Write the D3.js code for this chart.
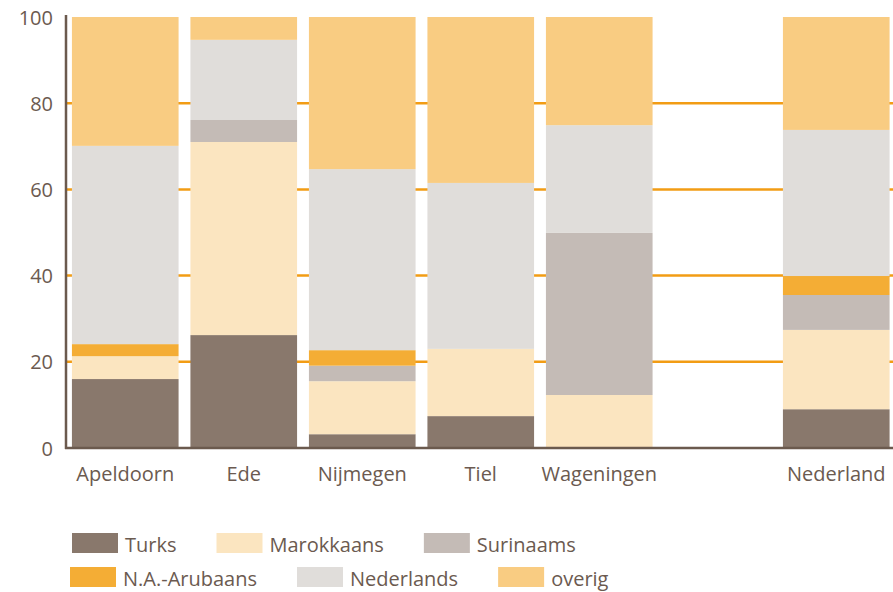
<!DOCTYPE html>
<html>
<head>
    <style>
        body { margin: 0; background: #fff; }
        text { font-family: "Open Sans", sans-serif; fill: #6b5a50; }
    </style>
    <script src="https://d3js.org/d3.v7.min.js"></script>
</head>
<body>
    <svg width="893" height="592"></svg>
    <script>
        // categories (one empty slot between Wageningen and Nederland)
        var places = ["Apeldoorn", "Ede", "Nijmegen", "Tiel", "Wageningen", "", "Nederland"];
        var groups = ["Turks", "Marokkaans", "Surinaams", "N.A.-Arubaans", "Nederlands", "overig"];
        var colors = ["#89786c", "#fbe5c0", "#c4bbb6", "#f4ad35", "#e0ddda", "#f9cc82"];

        // percentages per place, in group order
        var turks      = [16.0, 26.2,  3.2,  7.4,  0.0, null,  9.0];
        var marokkaans = [ 5.3, 44.8, 12.3, 15.6, 12.3, null, 18.4];
        var surinaams  = [ 0.0,  5.1,  3.6,  0.0, 37.6, null,  8.1];
        var arubaans   = [ 2.8,  0.0,  3.6,  0.0,  0.0, null,  4.4];
        var nederlands = [46.0, 18.6, 42.0, 38.5, 25.0, null, 33.9];
        var overig     = [29.9,  5.3, 35.3, 38.5, 25.1, null, 26.2];
        var yTicks = [0, 20, 40, 60, 80, 100];

        var series = [turks, marokkaans, surinaams, arubaans, nederlands, overig];
        var rows = places.map(function(p, i) {
            var r = { place: p };
            groups.forEach(function(g, j) { r[g] = series[j][i] || 0; });
            return r;
        }).filter(function(r) { return r.place !== ""; });

        var svg = d3.select("svg");
        var mLeft = 66, mRight = 893, mTop = 17, mBottom = 448;

        var x = d3.scaleBand().domain(places).range([mLeft, 895.5])
            .paddingInner(0.1).paddingOuter(0.05);
        var y = d3.scaleLinear().domain([0, 100]).range([mBottom, mTop]);
        var color = d3.scaleOrdinal(groups, colors);

        // orange gridlines behind bars
        svg.append("g").selectAll("line").data(yTicks.filter(function(t) { return t > 0 && t < 100; }))
            .enter().append("line")
            .attr("x1", mLeft).attr("x2", mRight)
            .attr("y1", function(d) { return y(d); }).attr("y2", function(d) { return y(d); })
            .attr("stroke", "#f29c14").attr("stroke-width", 2.5);

        var stack = d3.stack().keys(groups)(rows);
        svg.append("g").selectAll("g").data(stack).enter().append("g")
            .attr("fill", function(d) { return color(d.key); })
            .selectAll("rect").data(function(d) { return d; }).enter().append("rect")
            .attr("x", function(d) { return x(d.data.place); })
            .attr("width", x.bandwidth())
            .attr("y", function(d) { return y(d[1]); })
            .attr("height", function(d) { return y(d[0]) - y(d[1]); });

        // axes
        var yAxis = d3.axisLeft(y).tickValues(yTicks).tickSize(0).tickPadding(13);
        var gy = svg.append("g").attr("transform", "translate(" + mLeft + ",0)").call(yAxis);
        gy.select(".domain").remove();
        gy.selectAll("text").style("font-size", "20px").style("fill", "#6b5a50")
            .attr("dy", "0.35em");

        var xAxis = d3.axisBottom(x).tickSize(0).tickPadding(19);
        var gx = svg.append("g").attr("transform", "translate(0," + mBottom + ")").call(xAxis);
        gx.select(".domain").remove();
        gx.selectAll("text").style("font-size", "20px").style("fill", "#6b5a50");

        svg.append("line").attr("x1", mLeft).attr("x2", mLeft).attr("y1", 15).attr("y2", mBottom + 1)
            .attr("stroke", "#6b5a4e").attr("stroke-width", 2.5);
        svg.append("line").attr("x1", mLeft - 1).attr("x2", mRight).attr("y1", mBottom).attr("y2", mBottom)
            .attr("stroke", "#6b5a4e").attr("stroke-width", 2.5);

        // legend, two rows of three
        var legendRows = [[0, 1, 2], [3, 4, 5]];
        var rowStart = [72, 70], rowY = [533, 567];
        legendRows.forEach(function(idx, r) {
            var cx = rowStart[r];
            idx.forEach(function(i) {
                var g = svg.append("g").attr("transform", "translate(" + cx + "," + rowY[r] + ")");
                g.append("rect").attr("width", 46).attr("height", 20).attr("fill", color(groups[i]));
                var t = g.append("text").attr("x", 53).attr("y", 11).attr("dy", "0.38em")
                    .style("font-size", "20px").text(groups[i]);
                cx += 53 + t.node().getComputedTextLength() + 40;
            });
        });
    </script>
</body>
</html>
